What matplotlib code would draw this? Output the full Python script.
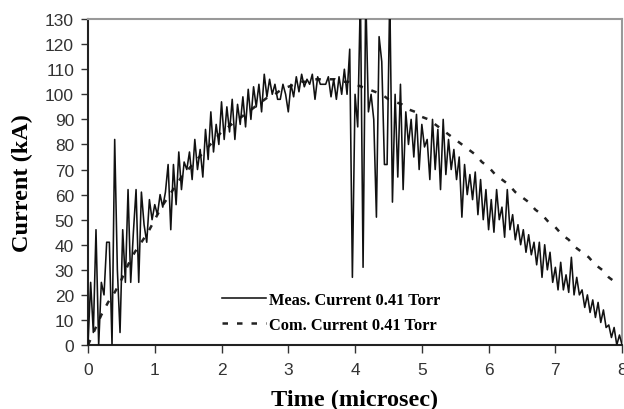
import numpy as np
import matplotlib
matplotlib.use("Agg")
import matplotlib.pyplot as plt

# ---- data ----
meas_dt = 0.04
meas_current = [
    0, 25, 5, 46, 0, 25, 20, 41, 41, 0,
    82, 30, 5, 46, 25, 62, 25, 45, 62, 25,
    61, 48, 41, 58, 50, 56, 52, 60, 55, 61,
    72, 46, 72, 56, 77, 62, 73, 70, 77, 66,
    82, 70, 78, 67, 86, 74, 93, 77, 88, 80,
    97, 82, 95, 85, 98, 82, 96, 88, 99, 87,
    102, 90, 103, 95, 104, 93, 108, 99, 106, 100,
    104, 98, 98, 104, 100, 93, 104, 99, 107, 101,
    108, 103, 106, 104, 108, 98, 107, 104, 104, 104,
    107, 99, 106, 98, 107, 100, 110, 100, 118, 27,
    100, 87, 140, 31, 140, 93, 100, 90, 51, 123,
    113, 72, 72, 140, 57, 100, 67, 104, 62, 93,
    80, 90, 75, 92, 70, 88, 79, 82, 66, 90,
    70, 86, 62, 90, 68, 82, 70, 78, 66, 75,
    51, 72, 60, 68, 58, 69, 52, 66, 50, 62,
    46, 58, 45, 62, 50, 55, 43, 62, 46, 52,
    42, 48, 40, 46, 37, 44, 36, 41, 32, 41,
    27, 40, 30, 37, 25, 31, 22, 33, 22, 28,
    21, 35, 20, 27, 20, 22, 15, 20, 13, 18,
    11, 17, 9, 14, 7, 8, 3, 7, 0, 4,
    0,
]
meas_time = np.arange(len(meas_current)) * meas_dt

comp_dt = 0.1
comp_current = [
    0, 6, 12, 17, 21, 26, 32, 37, 41, 45,
    50, 55, 59, 63, 67, 70, 73, 76, 79, 82,
    85, 87, 89, 91, 93, 95, 97, 99, 100, 102,
    103, 104, 105, 105, 106, 106, 106, 106, 105, 105,
    104, 103, 102, 101, 100, 98, 97, 96, 94, 93,
    91, 90, 88, 86, 84, 82, 80, 78, 76, 73,
    71, 68, 66, 64, 61, 59, 57, 54, 52, 49,
    47, 44, 42, 39, 37, 35, 32, 30, 27, 25,
]
comp_time = np.arange(len(comp_current)) * comp_dt

x_ticks = list(range(0, 9))
y_ticks = list(range(0, 131, 10))

# ---- figure ----
fig = plt.figure(figsize=(6.24, 4.10), dpi=100)
ax = fig.add_axes([0.141, 0.156, 0.856, 0.795])

ax.plot(comp_time, comp_current, color="#222222", lw=1.8,
        linestyle=(0, (2.2, 3.6)), label="Com. Current 0.41 Torr", zorder=2)
ax.plot(meas_time, meas_current, color="#111111", lw=1.15,
        label="Meas. Current 0.41 Torr", zorder=3)

ax.set_xlim(0, 8)
ax.set_ylim(0, 130)
ax.set_xticks(x_ticks)
ax.set_yticks(y_ticks)

tick_font = {"family": "Liberation Sans", "size": 12.5}
ax.set_xticklabels([str(v) for v in x_ticks], **tick_font, color="#333333")
ax.set_yticklabels([str(v) for v in y_ticks], **tick_font, color="#333333")
ax.tick_params(axis="both", direction="out", width=1, color="#333333")
ax.tick_params(axis="x", length=6, pad=6)
ax.tick_params(axis="y", length=5, pad=5)

for side in ("left", "bottom"):
    ax.spines[side].set_color("#222222")
    ax.spines[side].set_linewidth(1.5)
for side in ("top", "right"):
    ax.spines[side].set_color("#999999")
    ax.spines[side].set_linewidth(1.5)

lab_font = {"family": "Liberation Serif", "weight": "bold", "size": 17.5}
ax.set_xlabel("Time (microsec)", **lab_font, labelpad=9)
ax.set_ylabel("Current (kA)", **lab_font, labelpad=9)

handles, labels = ax.get_legend_handles_labels()
leg = ax.legend(handles[::-1], labels[::-1], loc="lower left",
                bbox_to_anchor=(0.25, 0.038), frameon=False,
                prop={"family": "Liberation Serif", "weight": "bold", "size": 11.8},
                handlelength=2.7, handletextpad=0.2, labelspacing=0.52,
                borderaxespad=0, borderpad=0)

fig.savefig("out.png", dpi=100)
